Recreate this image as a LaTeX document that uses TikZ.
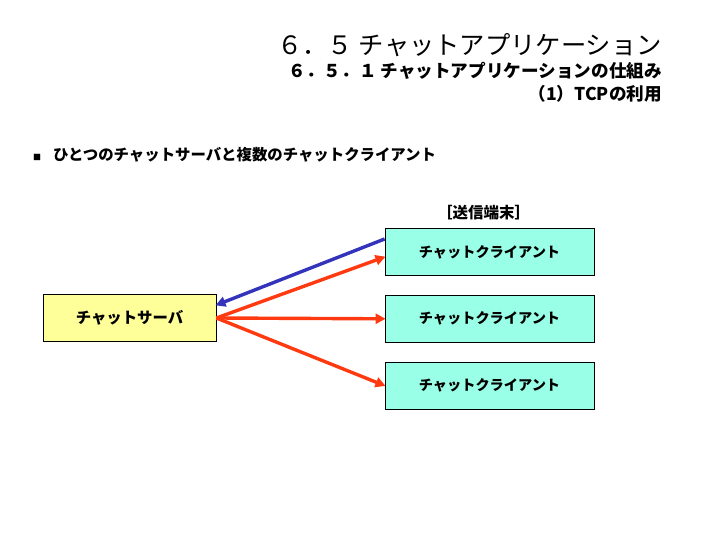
\documentclass[tikz,border=0pt]{standalone}
\usepackage{fontspec}
\setmainfont{Noto Sans CJK JP}[BoldFont={Noto Sans CJK JP Black}]
\usetikzlibrary{positioning,arrows.meta}
\definecolor{srvyellow}{HTML}{FFFF99}
\definecolor{cltcyan}{HTML}{99FFE6}
\definecolor{sendblue}{HTML}{3333BB}
\definecolor{recvred}{HTML}{FF3A10}

\begin{document}
\begin{tikzpicture}[x=1pt,y=-1pt,
	box/.style={draw,line width=0.8pt,minimum height=47pt},
	server/.style={box,fill=srvyellow,minimum width=173pt,font=\bfseries\fontsize{15.4}{17}\selectfont},
	client/.style={box,fill=cltcyan,minimum width=209pt,font=\bfseries\fontsize{14.2}{16}\selectfont},
	msg/.style={line width=3.4pt,-{Triangle[length=10pt,width=10pt]},shorten >=-1pt}]
	\useasboundingbox (0,0) rectangle (720,540);
	% headings
	\node[anchor=east,inner sep=0pt,font=\fontsize{25.3}{28}\selectfont] (title) at (662,45) {６．５ チャットアプリケーション};
	\node[anchor=east,inner sep=0pt,font=\bfseries\fontsize{17.6}{19}\selectfont] (sub) at (662,71) {６．５．１ チャットアプリケーションの仕組み};
	\node[anchor=east,inner sep=0pt,font=\bfseries\fontsize{17.6}{19}\selectfont] (tcp) at (662,94) {（1）TCPの利用};
	\node[inner sep=0pt,font=\fontsize{8}{8}\selectfont] (mark) at (37,157) {■};
	\node[anchor=west,inner sep=0pt,font=\bfseries\fontsize{15.4}{17}\selectfont] (lead) at (53,155) {ひとつのチャットサーバと複数のチャットクライアント};
	% server and clients
	\node[server] (srv) at (129.5,318) {チャットサーバ};
	\node[client] (c1) at (489.5,252) {チャットクライアント};
	\node[client,below=19pt of c1] (c2) {チャットクライアント};
	\node[client,below=19pt of c2] (c3) {チャットクライアント};
	\node[above=5pt of c1,xshift=-6pt,font=\bfseries\fontsize{15.5}{17}\selectfont] (send) {［送信端末］};
	\path[msg]
	([yshift=13pt]c1.west) edge[sendblue] ([yshift=13pt]srv.east)
	(srv.east) edge[recvred] ([yshift=-5pt]c1.west)
	(srv.east) edge[recvred] (c2.west)
	(srv.east) edge[recvred] (c3.west);
\end{tikzpicture}
\end{document}
